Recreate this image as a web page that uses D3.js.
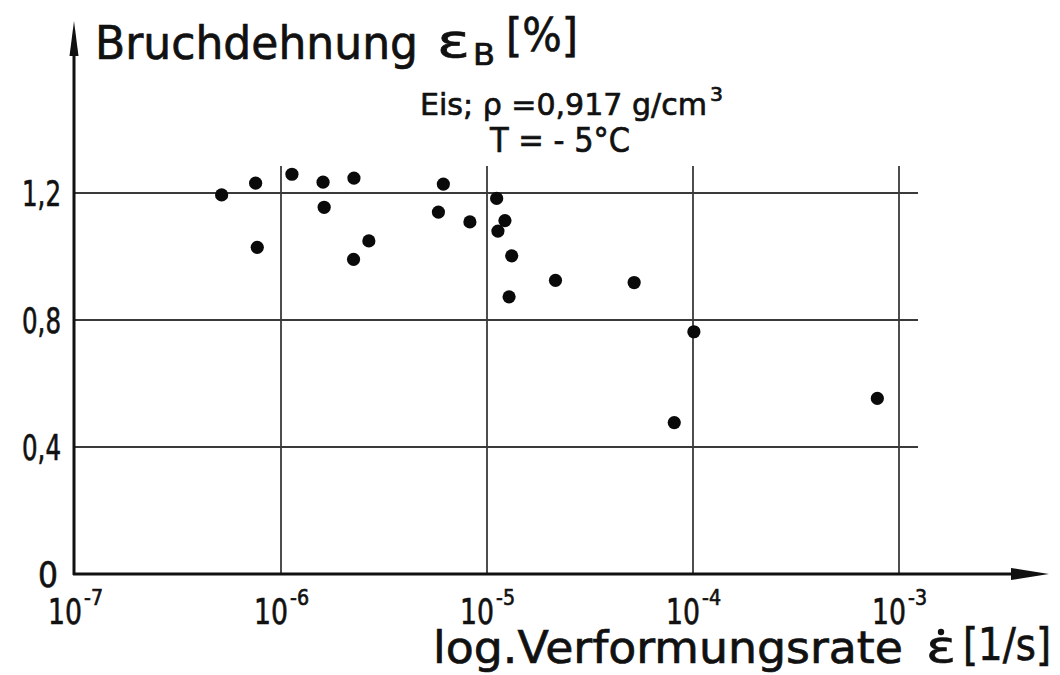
<!DOCTYPE html>
<html><head><meta charset="utf-8">
<script src="https://cdn.jsdelivr.net/npm/d3@7"></script>
<style>body{margin:0;background:#fff}svg{display:block}text{font-family:"DejaVu Sans",sans-serif;fill:#111;stroke:#111;stroke-width:0.7px}</style>
</head><body>
<svg id="c" width="1060" height="675"></svg>
<script>
// Data: strain rate [1/s] and elongation at break [%]
const rates = [5.15e-7, 7.53e-7, 7.67e-7, 1.13e-6, 1.60e-6, 1.62e-6, 2.26e-6, 2.67e-6, 2.25e-6,
  6.14e-6, 5.81e-6, 8.26e-6, 1.114e-5, 1.222e-5, 1.13e-5, 1.318e-5, 1.28e-5, 2.15e-5,
  5.18e-5, 1.01e-4, 8.11e-5, 7.85e-4];
const elong = [1.194, 1.231, 1.029, 1.259, 1.234, 1.155, 1.247, 1.049, 0.991,
  1.228, 1.140, 1.109, 1.183, 1.113, 1.080, 1.002, 0.873, 0.925,
  0.918, 0.763, 0.477, 0.553];
const xTicks = [1e-7, 1e-6, 1e-5, 1e-4, 1e-3];
const xExp = ["-7", "-6", "-5", "-4", "-3"];
const yTicks = [0, 0.4, 0.8, 1.2];
const yLabels = ["0", "0,4", "0,8", "1,2"];

const svg = d3.select("#c");
const x = d3.scaleLog().domain([1e-7, 1e-3]).range([75, 899]);
const y = d3.scaleLinear().domain([0, 1.2]).range([574, 193]);

// grid
svg.append("g").selectAll("line").data(yTicks.filter(d => d > 0)).join("line")
  .attr("x1", x(1e-7)).attr("x2", 918).attr("y1", d => y(d)).attr("y2", d => y(d))
  .attr("stroke", "#3a3a3a").attr("stroke-width", 1.8);
svg.append("g").selectAll("line").data(xTicks.slice(1)).join("line")
  .attr("x1", d => x(d)).attr("x2", d => x(d)).attr("y1", 166).attr("y2", y(0))
  .attr("stroke", "#3a3a3a").attr("stroke-width", 1.8);

// axes
svg.append("line").attr("x1", 74).attr("x2", 74).attr("y1", y(0) + 1).attr("y2", 40)
  .attr("stroke", "#111").attr("stroke-width", 3);
svg.append("path").attr("d", "M74,21 L78.5,56 L69.5,56 Z").attr("fill", "#111");
svg.append("line").attr("x1", 73).attr("x2", 1020).attr("y1", y(0)).attr("y2", y(0))
  .attr("stroke", "#111").attr("stroke-width", 3);
svg.append("path").attr("d", "M1049,574 L1011,568 L1011,580 Z").attr("fill", "#111");

// y tick labels
svg.append("g").selectAll("text").data(yTicks).join("text")
  .attr("x", d => d === 0 ? 58 : 61).attr("y", d => y(d) + 13)
  .attr("text-anchor", "end").attr("font-size", 36)
  .attr("textLength", d => d === 0 ? 20 : 39).attr("lengthAdjust", "spacingAndGlyphs")
  .text((d, i) => yLabels[i]);

// x tick labels
const xl = svg.append("g");
xl.selectAll("text.b").data(xTicks).join("text").attr("class", "b")
  .attr("x", d => x(d) - 27).attr("y", 624).attr("font-size", 36)
  .attr("textLength", 34).attr("lengthAdjust", "spacingAndGlyphs").text("10");
xl.selectAll("text.e").data(xTicks).join("text").attr("class", "e")
  .attr("x", d => x(d) + 9).attr("y", 605).attr("font-size", 22)
  .attr("textLength", 19).attr("lengthAdjust", "spacingAndGlyphs")
  .text((d, i) => xExp[i]);

// points
svg.append("g").selectAll("circle").data(rates).join("circle")
  .attr("cx", d => x(d)).attr("cy", (d, i) => y(elong[i])).attr("r", 6.6).attr("fill", "#0a0a0a");

// y title
svg.append("text").attr("x", 95).attr("y", 59).attr("font-size", 46)
  .attr("textLength", 323).attr("lengthAdjust", "spacingAndGlyphs").text("Bruchdehnung");
svg.append("text").attr("x", 437).attr("y", 57).attr("font-size", 46)
  .attr("textLength", 33).attr("lengthAdjust", "spacingAndGlyphs").text("ε");
svg.append("text").attr("x", 473).attr("y", 65).attr("font-size", 30)
  .attr("textLength", 22).attr("lengthAdjust", "spacingAndGlyphs").text("B");
svg.append("text").attr("x", 506).attr("y", 51).attr("font-size", 46)
  .attr("textLength", 72).attr("lengthAdjust", "spacingAndGlyphs").text("[%]");

// annotation
svg.append("text").attr("x", 420).attr("y", 115).attr("font-size", 31)
  .attr("textLength", 287).attr("lengthAdjust", "spacingAndGlyphs").text("Eis; ρ =0,917 g/cm");
svg.append("text").attr("x", 710).attr("y", 101).attr("font-size", 20)
  .attr("textLength", 13).attr("lengthAdjust", "spacingAndGlyphs").text("3");
svg.append("text").attr("x", 490).attr("y", 152).attr("font-size", 33)
  .attr("textLength", 140).attr("lengthAdjust", "spacingAndGlyphs").text("T = - 5°C");

// x title
svg.append("text").attr("x", 433).attr("y", 663).attr("font-size", 45)
  .attr("textLength", 470).attr("lengthAdjust", "spacingAndGlyphs").text("log.Verformungsrate");
svg.append("text").attr("x", 926).attr("y", 662).attr("font-size", 45)
  .attr("textLength", 30).attr("lengthAdjust", "spacingAndGlyphs").text("ε");
svg.append("circle").attr("cx", 941).attr("cy", 632).attr("r", 3.2).attr("fill", "#111");
svg.append("text").attr("x", 963).attr("y", 660).attr("font-size", 44)
  .attr("textLength", 88).attr("lengthAdjust", "spacingAndGlyphs").text("[1/s]");
</script>
</body></html>
